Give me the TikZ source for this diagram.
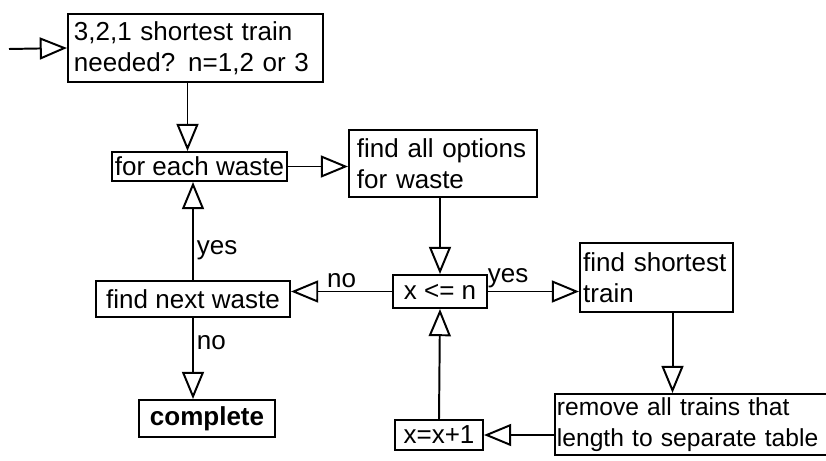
\documentclass[tikz,border=0pt]{standalone}
\usepackage{fontspec}
\setmainfont{Liberation Sans}
\usetikzlibrary{arrows.meta}
\begin{document}
\begin{tikzpicture}[x=0.025cm,y=-0.025cm,line width=1.4pt,>={Triangle[open,length=0.68cm,width=0.55cm]}]
	\tikzstyle{boite}=[draw, inner sep=0pt, font=\fontsize{18.5}{22}\selectfont]
	\tikzstyle{boite_texte}=[draw, align=left, font=\fontsize{18.5}{22}\selectfont]
	\tikzstyle{etiq}=[inner sep=2pt, font=\fontsize{18.5}{22}\selectfont]
	\useasboundingbox (0,0) rectangle (826,460);
	\node[boite_texte, inner sep=0.15cm, text width=6.075cm, minimum height=1.7cm] (start) at (195.5,48) {3,2,1 shortest train\\needed? n=1,2 or 3}; % haut
	\node[boite, minimum width=4.375cm, minimum height=0.725cm] (each) at (199.5,166.5) {for each waste};
	\node[boite_texte, inner sep=0.2cm, text width=4.3cm, minimum height=1.675cm] (options) at (443,163.5) {find all options\\for waste};
	\node[boite, minimum width=2.35cm, minimum height=0.825cm] (test) at (440,291.5) {x <= n}; % milieu
	\node[boite_texte, inner sep=0.08cm, text width=3.665cm, minimum height=1.725cm] (shortest) at (656.5,277.5) {find shortest\\train};
	\node[boite_texte, inner sep=0.05cm, text width=7.025cm, minimum height=1.525cm, font=\fontsize{17.5}{22}\selectfont] (remove) at (697.5,424.5) {remove all trains that\\length to separate table}; % droite bas
	\node[boite, minimum width=2.2cm, minimum height=0.75cm] (incr) at (439,435) {x=x+1};
	\node[boite, minimum width=4.85cm, minimum height=0.9cm] (next) at (193,299) {find next waste}; % gauche
	\node[boite, minimum width=3.4cm, minimum height=0.925cm, font=\fontsize{18.5}{22}\selectfont\bfseries] (complete) at (207,418.5) {complete};
	\coordinate (entree) at (9,49);
	\draw[->] (entree) -- (start.west);
	\draw[->] ([xshift=-0.2cm]start.south) -- ([xshift=-0.2cm]start.south |- each.north);
	\draw[->] (each.east) -- (each.east -| options.west);
	\draw[->] (options.south -| test.north) -- (test.north);
	\draw[->] (test.east) -- (test.east -| shortest.west) node[etiq, pos=0.22, above] {yes};
	\draw[->] (test.west) -- (test.west -| next.east) node[etiq, midway, above] {no};
	\draw[->] ([xshift=0.4cm]shortest.south) -- ([xshift=0.4cm]shortest.south |- remove.north);
	\draw[->] (remove.west |- incr.east) -- (incr.east);
	\draw[->] (incr.north) -- (test.south);
	\draw[->] (next.north) -- (next.north |- each.south) node[etiq, pos=0.3, right] {yes};
	\draw[->] (next.south) -- (next.south |- complete.north) node[etiq, pos=0.3, right] {no};
\end{tikzpicture}
\end{document}
